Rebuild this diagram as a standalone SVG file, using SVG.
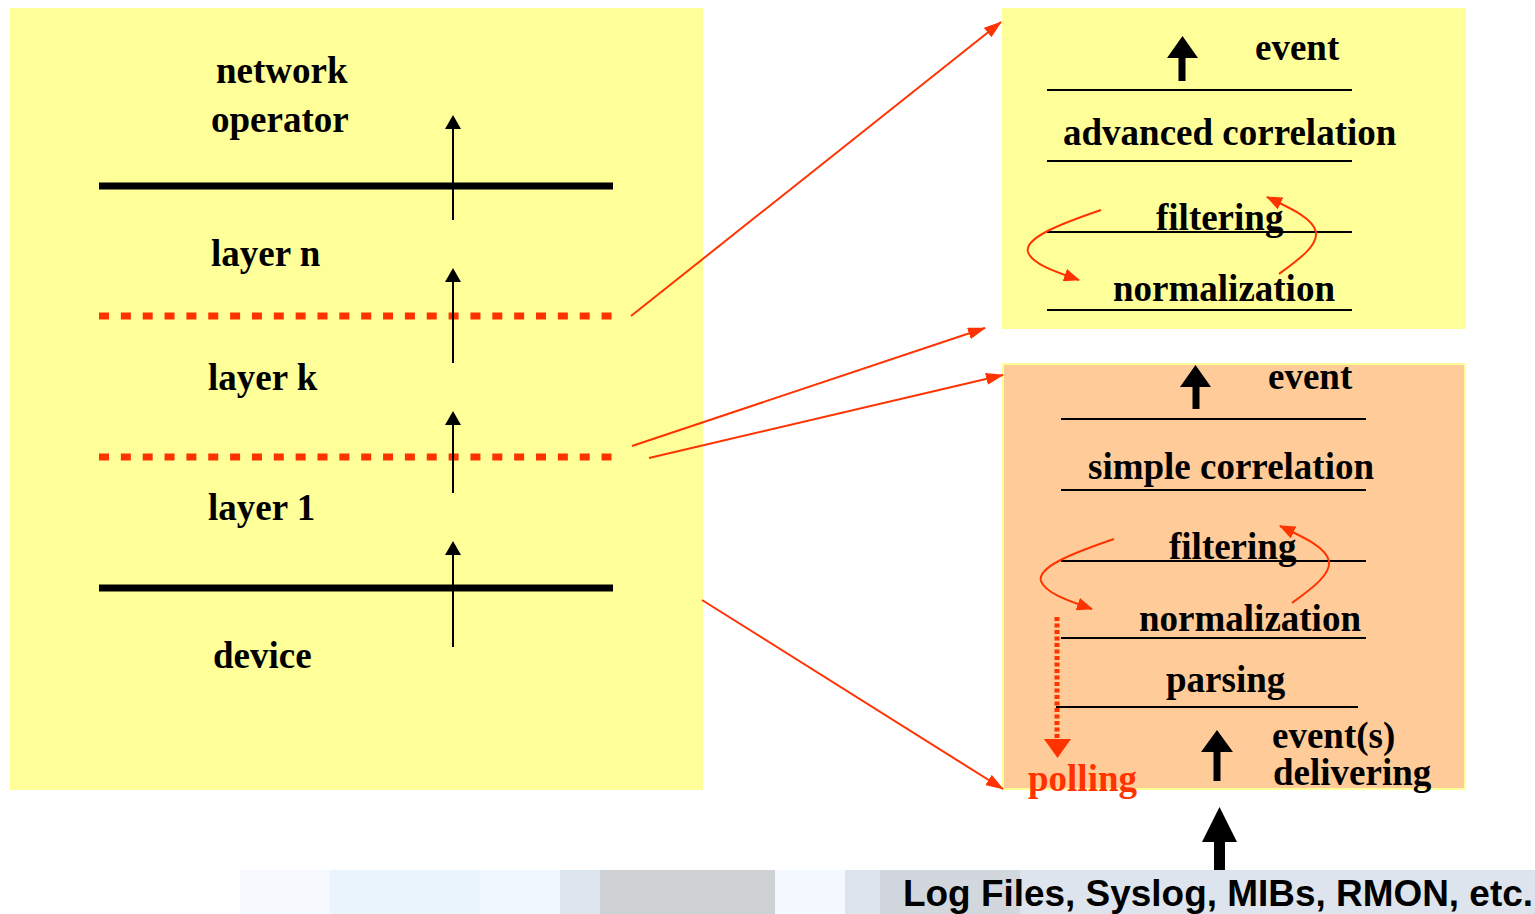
<svg xmlns="http://www.w3.org/2000/svg" width="1535" height="914" viewBox="0 0 1535 914">
<style>
.t{font-family:"Liberation Serif","Times New Roman",serif;font-weight:bold;font-size:37px;fill:#000}
.red{fill:#FF3300}
.thin{stroke:#000;stroke-width:2;fill:none}
.rl{stroke:#FF3300;stroke-width:2;fill:none}
.thick{stroke:#000;stroke-width:7}
.dash{stroke:#FF3300;stroke-width:7;stroke-dasharray:10 11.85}
</style>
<defs>
<marker id="ah" viewBox="0 0 18 12" markerWidth="18" markerHeight="12" markerUnits="userSpaceOnUse" refX="17" refY="6" orient="auto">
<path d="M0,0 L18,6 L0,12 z" fill="#FF3300"/>
</marker>
<marker id="ch" viewBox="0 0 16 13" markerWidth="16" markerHeight="13" markerUnits="userSpaceOnUse" refX="15" refY="6.5" orient="auto">
<path d="M0,0 L16,6.5 L0,13 z" fill="#FF3300"/>
</marker>
</defs>
<rect width="1535" height="914" fill="#fff"/>

<g id="band">
<rect x="240" y="870" width="90" height="44" fill="#F6FAFE"/>
<rect x="330" y="870" width="150" height="44" fill="#EAF4FD"/>
<rect x="480" y="870" width="95" height="44" fill="#F0F7FE"/>
<rect x="560" y="870" width="40" height="44" fill="#DDE6EF"/>
<rect x="600" y="870" width="175" height="44" fill="#CFD2D5"/>
<rect x="775" y="870" width="70" height="44" fill="#F3F9FE"/>
<rect x="845" y="870" width="690" height="44" fill="#DDE4ED"/>
<rect x="880" y="870" width="140" height="44" fill="#D2D7DD"/>
</g>

<g id="left-panel">
<rect x="10" y="8" width="693" height="782" fill="#FFFF99"/>
<line class="thick" x1="99" y1="186" x2="613" y2="186"/>
<line class="thick" x1="99" y1="588" x2="613" y2="588"/>
<line class="dash" x1="99" y1="316" x2="613" y2="316"/>
<line class="dash" x1="99" y1="457" x2="613" y2="457"/>
<g>
<line class="thin" x1="453" y1="220" x2="453" y2="125"/>
<path d="M453,115 L461,129 L445,129 z"/>
<line class="thin" x1="453" y1="363" x2="453" y2="278"/>
<path d="M453,268 L461,282 L445,282 z"/>
<line class="thin" x1="453" y1="493" x2="453" y2="421"/>
<path d="M453,411 L461,425 L445,425 z"/>
<line class="thin" x1="453" y1="647" x2="453" y2="551"/>
<path d="M453,541 L461,555 L445,555 z"/>
</g>
<text class="t" x="216" y="83">network</text>
<text class="t" x="211" y="132">operator</text>
<text class="t" x="211" y="266">layer n</text>
<text class="t" x="208" y="390">layer k</text>
<text class="t" x="208" y="520">layer 1</text>
<text class="t" x="213" y="668">device</text>
</g>

<g id="advanced-panel">
<rect x="1002" y="8" width="464" height="321" fill="#FFFF99"/>
<line class="thin" x1="1047" y1="90" x2="1352" y2="90"/>
<line class="thin" x1="1047" y1="161" x2="1352" y2="161"/>
<line class="thin" x1="1047" y1="232" x2="1352" y2="232"/>
<line class="thin" x1="1047" y1="310" x2="1352" y2="310"/>
<path d="M1178.5,81 L1178.5,58 L1167,58 L1182.5,36 L1198,58 L1185.5,58 L1185.5,81 z"/>
<text class="t" x="1255" y="60">event</text>
<text class="t" x="1063" y="145">advanced correlation</text>
<text class="t" x="1156" y="230">filtering</text>
<text class="t" x="1113" y="301">normalization</text>
<path class="rl" d="M1101,210 C1060,224 1024,238 1028,252 C1032,264 1056,272 1079,280" marker-end="url(#ch)"/>
<path class="rl" d="M1279,274 C1298,260 1318,246 1316,232 C1313,218 1290,208 1267,197" marker-end="url(#ch)"/>
</g>

<g id="simple-panel">
<rect x="1003" y="364" width="462" height="425" fill="#FFCC99" stroke="#FFFF99" stroke-width="2"/>
<line class="thin" x1="1061" y1="419" x2="1366" y2="419"/>
<line class="thin" x1="1061" y1="490" x2="1366" y2="490"/>
<line class="thin" x1="1061" y1="561" x2="1366" y2="561"/>
<line class="thin" x1="1061" y1="638" x2="1366" y2="638"/>
<line class="thin" x1="1056" y1="707" x2="1358" y2="707"/>
<path d="M1192.5,409 L1192.5,387 L1180,387 L1195.5,365 L1211,387 L1199.5,387 L1199.5,409 z"/>
<text class="t" x="1268" y="389">event</text>
<text class="t" x="1088" y="479">simple correlation</text>
<text class="t" x="1169" y="559">filtering</text>
<text class="t" x="1139" y="631">normalization</text>
<text class="t" x="1166" y="692">parsing</text>
<text class="t" x="1272" y="748">event(s)</text>
<text class="t" x="1273" y="785">delivering</text>
<path d="M1213.5,781 L1213.5,752 L1201,752 L1217,730 L1233,752 L1220.5,752 L1220.5,781 z"/>
<path class="rl" d="M1114,539 C1073,553 1037,567 1041,581 C1045,593 1069,601 1092,609" marker-end="url(#ch)"/>
<path class="rl" d="M1292,603 C1311,589 1331,575 1329,561 C1326,547 1303,537 1280,526" marker-end="url(#ch)"/>
<line x1="1057" y1="617" x2="1057" y2="740" stroke="#FF3300" stroke-width="5" stroke-dasharray="4 2.5"/>
<path d="M1044,739 L1071,739 L1057.5,758 z" fill="#FF3300"/>
<text class="t red" x="1028" y="791">polling</text>
</g>

<g id="sources">
<path d="M1214,870 L1214,842 L1202,842 L1219.5,807 L1237,842 L1225,842 L1225,870 z"/>
<text x="903" y="906" font-family="'Liberation Sans',Arial,sans-serif" font-weight="bold" font-size="37" textLength="630" lengthAdjust="spacingAndGlyphs" fill="#000">Log Files, Syslog, MIBs, RMON, etc.</text>
</g>

<g id="connectors">
<line class="rl" x1="631" y1="316" x2="1001" y2="22" marker-end="url(#ah)"/>
<line class="rl" x1="632" y1="446" x2="985" y2="328" marker-end="url(#ah)"/>
<line class="rl" x1="649" y1="458" x2="1003" y2="375" marker-end="url(#ah)"/>
<line class="rl" x1="702" y1="600" x2="1003" y2="789" marker-end="url(#ah)"/>
</g>
</svg>
